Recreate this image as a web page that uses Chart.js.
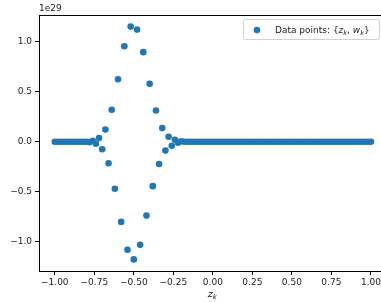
<!DOCTYPE html>
<html>
<head>
<meta charset="utf-8">
<script src="https://cdn.jsdelivr.net/npm/chart.js@4/dist/chart.umd.min.js"></script>
<style>
  html, body { margin: 0; padding: 0; background: #fff; overflow: hidden; width: 381px; height: 302px; }
</style>
</head>
<body>
<canvas id="grafico" width="390" height="302"></canvas>
<script>
// Nodos z_k (eje x)
const zk = [
  -1.00, -0.98, -0.96, -0.94, -0.92, -0.90, -0.88, -0.86, -0.84, -0.82,
  -0.80, -0.78, -0.76, -0.74, -0.72, -0.70, -0.68, -0.66, -0.64, -0.62,
  -0.60, -0.58, -0.56, -0.54, -0.52, -0.50, -0.48, -0.46, -0.44, -0.42,
  -0.40, -0.38, -0.36, -0.34, -0.32, -0.30, -0.28, -0.26, -0.24, -0.22,
  -0.20, -0.18, -0.16, -0.14, -0.12, -0.10, -0.08, -0.06, -0.04, -0.02,
   0.00,  0.02,  0.04,  0.06,  0.08,  0.10,  0.12,  0.14,  0.16,  0.18,
   0.20,  0.22,  0.24,  0.26,  0.28,  0.30,  0.32,  0.34,  0.36,  0.38,
   0.40,  0.42,  0.44,  0.46,  0.48,  0.50,  0.52,  0.54,  0.56,  0.58,
   0.60,  0.62,  0.64,  0.66,  0.68,  0.70,  0.72,  0.74,  0.76,  0.78,
   0.80,  0.82,  0.84,  0.86,  0.88,  0.90,  0.92,  0.94,  0.96,  0.98,
   1.00
];

// Pesos w_k en unidades de 1e29
const wk = [
  0, 0, 0, 0, 0, 0, 0, 0, 0, 0,
  0, -0.005, 0.01, -0.02, 0.036, -0.076, 0.122, -0.215, 0.318, -0.470,
  0.623, -0.801, 0.953, -1.079, 1.149, -1.175, 1.119, -1.030, 0.894, -0.738,
  0.579, -0.444, 0.311, -0.222, 0.136, -0.089, 0.050, -0.040, 0.020, -0.010,
  0.005, 0, 0, 0, 0, 0, 0, 0, 0, 0,
  0, 0, 0, 0, 0, 0, 0, 0, 0, 0,
  0, 0, 0, 0, 0, 0, 0, 0, 0, 0,
  0, 0, 0, 0, 0, 0, 0, 0, 0, 0,
  0, 0, 0, 0, 0, 0, 0, 0, 0, 0,
  0, 0, 0, 0, 0, 0, 0, 0, 0, 0,
  0
];

const xTicks = [-1.00, -0.75, -0.50, -0.25, 0.00, 0.25, 0.50, 0.75, 1.00];
const yTicks = [-1.0, -0.5, 0.0, 0.5, 1.0];
const exponente = "1e29";

const azul = "#1f77b4";
const fuente = "DejaVu Sans";

function etiqueta(v, dec) {
    const s = Math.abs(v).toFixed(dec);
    return (v < 0 ? "\u2212" : "") + s;
}

// Marco, titulo del eje x, exponente y leyenda
const extras = {
    id: "extras",
    afterDraw(chart) {
        const { ctx, chartArea } = chart;
        ctx.save();
        ctx.strokeStyle = "#000";
        ctx.lineWidth = 1;
        ctx.strokeRect(Math.round(chartArea.left) + 0.5, Math.round(chartArea.top) + 0.5,
            Math.round(chartArea.right - chartArea.left), Math.round(chartArea.bottom - chartArea.top));

        ctx.fillStyle = "#222";
        ctx.textBaseline = "alphabetic";
        ctx.font = `9px "${fuente}"`;
        ctx.textAlign = "left";
        ctx.fillText(exponente, 39, 11);

        // titulo eje x: z_k
        const cx = (chartArea.left + chartArea.right) / 2;
        ctx.font = `italic 9.5px "${fuente}"`;
        const wz = ctx.measureText("z").width;
        ctx.fillText("z", cx - 5, 297);
        ctx.font = `italic 7px "${fuente}"`;
        ctx.fillText("k", cx - 5 + wz, 299);

        // leyenda
        const bx = 243.5, by = 19.5, bw = 136, bh = 20;
        ctx.beginPath();
        ctx.roundRect(bx, by, bw, bh, 2);
        ctx.fillStyle = "rgba(255,255,255,0.8)";
        ctx.fill();
        ctx.strokeStyle = "#d0d0d0";
        ctx.stroke();
        ctx.beginPath();
        ctx.arc(257, 30, 3.3, 0, Math.PI * 2);
        ctx.fillStyle = azul;
        ctx.fill();

        ctx.fillStyle = "#222";
        let x = 275;
        const base = 33;
        const partes = [
            ["Data points: {", `9px "${fuente}"`, 0],
            ["z", `italic 9px "${fuente}"`, 0],
            ["k", `italic 6.5px "${fuente}"`, 2],
            [", ", `9px "${fuente}"`, 0],
            ["w", `italic 9px "${fuente}"`, 0],
            ["k", `italic 6.5px "${fuente}"`, 2],
            ["}", `9px "${fuente}"`, 0]
        ];
        partes.forEach(([t, f, dy]) => {
            ctx.font = f;
            ctx.fillText(t, x, base + dy);
            x += ctx.measureText(t).width;
        });
        ctx.restore();
    }
};

const ctx = document.getElementById("grafico").getContext("2d");

new Chart(ctx, {
    type: "scatter",
    data: {
        datasets: [
            {
                label: "Data points",
                data: zk.map((z, i) => ({ x: z, y: wk[i] })),
                backgroundColor: azul,
                borderWidth: 0,
                pointRadius: 3.3,
                pointHoverRadius: 3.3,
            },
        ],
    },
    options: {
        responsive: false,
        animation: false,
        events: [],
        layout: { padding: { top: 15, right: 3, left: 0, bottom: 0 } },
        plugins: {
            legend: { display: false },
            tooltip: { enabled: false },
        },
        scales: {
            x: {
                type: "linear",
                min: -1.1,
                max: 1.1,
                afterBuildTicks: (s) => { s.ticks = xTicks.map((v) => ({ value: v })); },
                afterFit: (s) => {
                    s.height = 31;
                    s.paddingLeft = 0;
                    s.paddingRight = 0;
                },
                grid: { drawOnChartArea: false, drawTicks: true, tickLength: 4, color: "#000" },
                border: { display: false },
                ticks: {
                    padding: 2,
                    maxRotation: 0,
                    autoSkip: false,
                    color: "#222",
                    font: { family: fuente, size: 9 },
                    callback: (v) => etiqueta(v, 2),
                },
            },
            y: {
                type: "linear",
                min: -1.291,
                max: 1.265,
                afterBuildTicks: (s) => { s.ticks = yTicks.map((v) => ({ value: v })); },
                afterFit: (s) => {
                    s.width = 39;
                    s.paddingTop = 0;
                    s.paddingBottom = 0;
                },
                grid: { drawOnChartArea: false, drawTicks: true, tickLength: 4, color: "#000" },
                border: { display: false },
                ticks: {
                    padding: 3,
                    autoSkip: false,
                    color: "#222",
                    font: { family: fuente, size: 9 },
                    callback: (v) => etiqueta(v, 1),
                },
            },
        },
    },
    plugins: [extras],
});
</script>
</body>
</html>
